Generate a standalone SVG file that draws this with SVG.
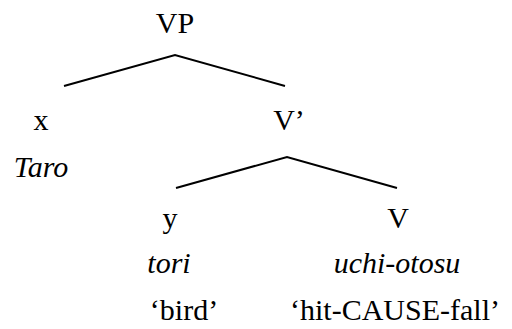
<svg xmlns="http://www.w3.org/2000/svg" width="512" height="329" viewBox="0 0 512 329">
  <style>
    text { font-family: "Liberation Serif", "Times New Roman", "Nimbus Roman", FreeSerif, "Noto Serif", "DejaVu Serif", serif; font-size: 30px; fill: #000; text-anchor: middle; }
    .it { font-style: italic; }
    .edge { fill: none; stroke: #000; stroke-width: 2; }
  </style>
  <rect width="512" height="329" fill="#fff"/>
  <!-- tree branches -->
  <g id="connectors">
    <polyline class="edge" points="64,86 175,55 285,86"/>
    <polyline class="edge" points="176,188 287,157 397,188"/>
  </g>
  <g id="VP"><text x="175" y="33">VP</text></g>
  <g id="x">
    <text x="41" y="130">x</text>
    <text class="it" x="41" y="177">Taro</text>
  </g>
  <g id="Vbar"><text x="289" y="130">V’</text></g>
  <g id="y">
    <text x="170" y="228">y</text>
    <text class="it" x="169" y="273">tori</text>
    <text x="184" y="320">‘bird’</text>
  </g>
  <g id="V">
    <text x="398" y="228">V</text>
    <text class="it" x="397" y="273">uchi-otosu</text>
    <text x="395" y="320">‘hit-CAUSE-fall’</text>
  </g>
</svg>
